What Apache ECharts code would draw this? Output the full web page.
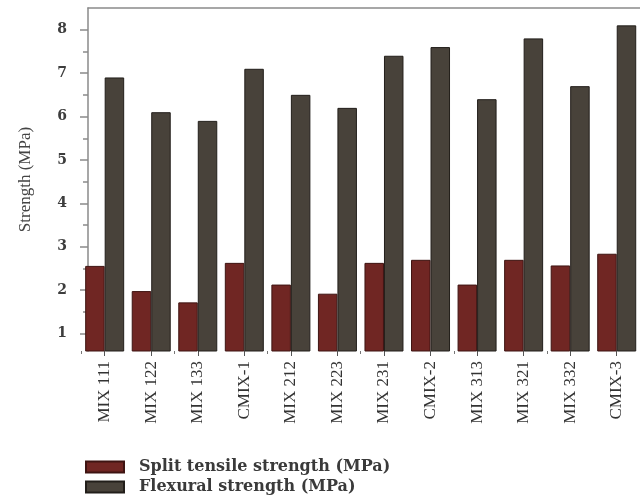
<!DOCTYPE html>
<html>
<head>
<meta charset="utf-8">
<script src="https://cdn.jsdelivr.net/npm/echarts@6/dist/echarts.min.js"></script>
<style>
html,body{margin:0;padding:0;background:#fff;}
#chart{width:640px;height:499px;}
</style>
</head>
<body>
<div id="chart"></div>
<script>
const categories = ['MIX 111','MIX 122','MIX 133','CMIX-1','MIX 212','MIX 223','MIX 231','CMIX-2','MIX 313','MIX 321','MIX 332','CMIX-3'];
const splitTensile = [2.56,1.98,1.72,2.63,2.13,1.92,2.63,2.70,2.13,2.70,2.57,2.84];
const flexural = [6.9,6.1,5.9,7.1,6.5,6.2,7.4,7.6,6.4,7.8,6.7,8.1];
const yTicks = [1,2,3,4,5,6,7,8];
const yMinorTicks = [1.5,2.5,3.5,4.5,5.5,6.5,7.5];
const seriesNames = ['Split tensile strength (MPa)','Flexural strength (MPa)'];
const yName = 'Strength (MPa)';

const axisGray = '#8a8a8a';
const chart = echarts.init(document.getElementById('chart'));
const yCommon = {
  type:'value', min:0.6, max:8.5, position:'left', offset:-6.6,
  splitLine:{show:false}
};
chart.setOption({
  animation:false,
  backgroundColor:'#fff',
  grid:[
    {left:81.4, top:8, width:567.3, height:343},
    {left:88, top:8, width:560, height:343}
  ],
  legend:{
    orient:'vertical', left:85, top:457, padding:0, itemGap:0,
    itemWidth:38, itemHeight:11, icon:'rect',
    textStyle:{fontFamily:'DejaVu Serif', fontWeight:'bold', fontSize:16, color:'#3a3a3a', lineHeight:20, padding:[0,0,0,10]},
    data:seriesNames
  },
  xAxis:[
    {type:'category', data:categories, gridIndex:0, position:'bottom',
     axisLine:{show:false},
     axisTick:{show:true, alignWithLabel:true, length:5, lineStyle:{color:'#555'}},
     axisLabel:{rotate:90, margin:10, fontFamily:'Liberation Serif', fontSize:17, color:'#333', interval:0}
    },
    {type:'category', data:categories, gridIndex:0, position:'bottom',
     axisLine:{show:false},
     axisTick:{show:true, length:3, lineStyle:{color:'#777'}},
     axisLabel:{show:false}
    },
    {type:'value', gridIndex:1, position:'top', min:0, max:1,
     axisLine:{show:true, onZero:false, lineStyle:{color:axisGray, width:1.5}},
     axisTick:{show:false}, axisLabel:{show:false}, splitLine:{show:false}
    }
  ],
  yAxis:[
    Object.assign({}, yCommon, {
      gridIndex:0,
      name:yName, nameLocation:'middle', nameGap:54, nameRotate:90,
      nameTextStyle:{fontFamily:'Liberation Serif', fontSize:17, color:'#444'},
      axisLine:{show:true, lineStyle:{color:axisGray, width:1.5}},
      axisTick:{show:true, length:8, customValues:yTicks, lineStyle:{color:axisGray, width:1.5}},
      axisLabel:{customValues:yTicks, margin:21, fontFamily:'DejaVu Serif', fontWeight:'bold', fontSize:14, color:'#3d3d3d'}
    }),
    Object.assign({}, yCommon, {
      gridIndex:0,
      axisLine:{show:false},
      axisTick:{show:true, length:5, customValues:yMinorTicks, lineStyle:{color:axisGray, width:1.5}},
      axisLabel:{show:false}
    }),
    {type:'value', gridIndex:1, show:false, min:0, max:1}
  ],
  series:[
    {name:seriesNames[0], type:'bar', xAxisIndex:0, yAxisIndex:0, data:splitTensile,
     barWidth:19.5, barGap:'0%',
     itemStyle:{color:'#702623', borderColor:'#3e1412', borderWidth:1}},
    {name:seriesNames[1], type:'bar', xAxisIndex:0, yAxisIndex:0, data:flexural,
     barWidth:19.5, barGap:'0%',
     itemStyle:{color:'#48423a', borderColor:'#221e1a', borderWidth:1}}
  ]
});
</script>
</body>
</html>
